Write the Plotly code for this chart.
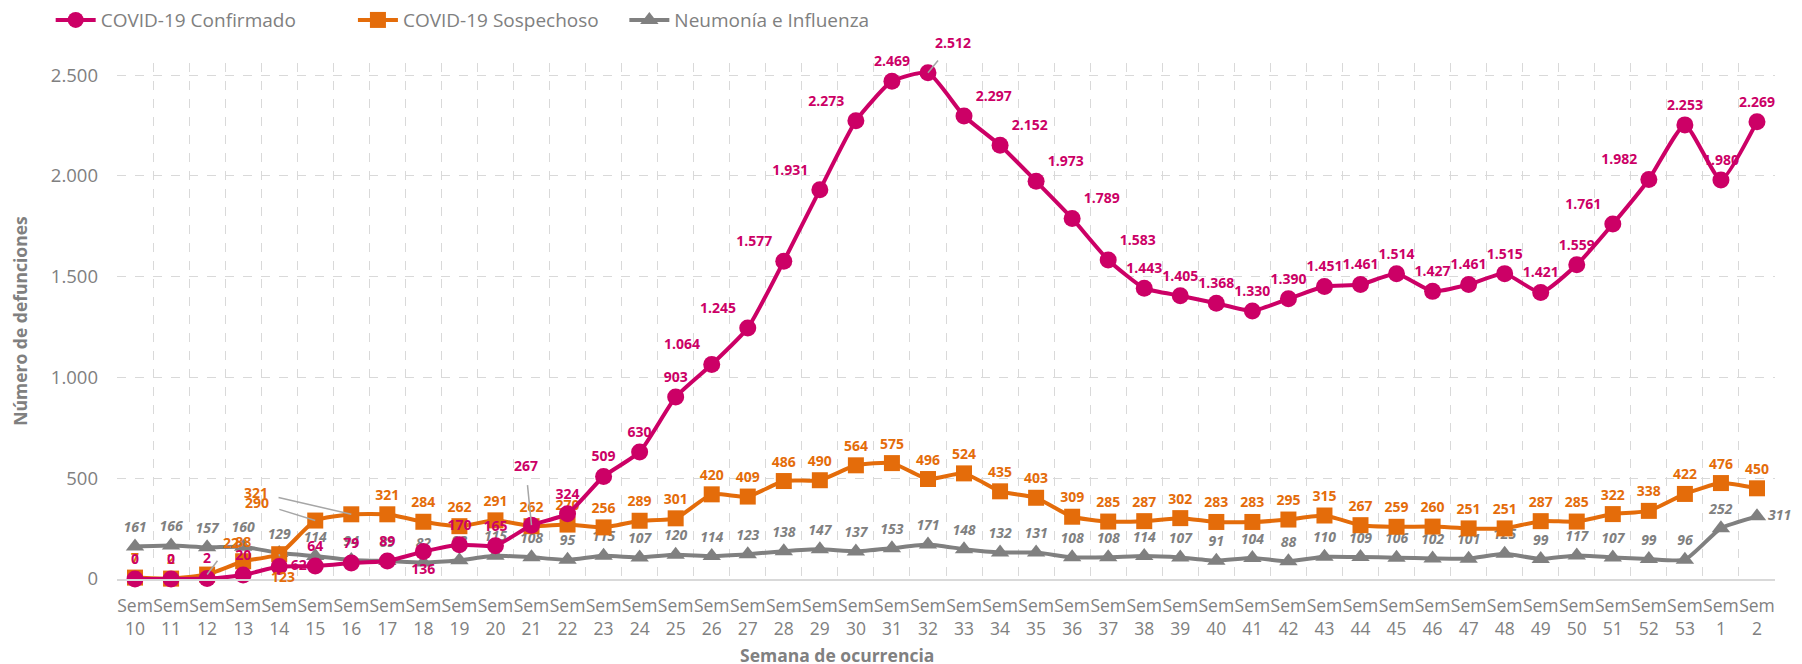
import plotly.graph_objects as go

weeks = [str(w) for w in range(10, 54)] + ["1", "2"]
categories = ["Sem<br>" + w for w in weeks]

confirmado = [0, 0, 2, 20, 62, 64, 79, 89, 136, 170, 165, 267, 324,
              509, 630, 903, 1064, 1245, 1577, 1931, 2273, 2469, 2512, 2297, 2152, 1973,
              1789, 1583, 1443, 1405, 1368, 1330, 1390, 1451, 1461, 1514, 1427, 1461,
              1515, 1421, 1559, 1761, 1982, 2253, 1980, 2269]
sospechoso = [7, 2, 22, 88, 123, 290, 321, 321, 284, 262, 291, 262, 270,
              256, 289, 301, 420, 409, 486, 490, 564, 575, 496, 524, 435, 403,
              309, 285, 287, 302, 283, 283, 295, 315, 267, 259, 260, 251, 251,
              287, 285, 322, 338, 422, 476, 450]
neumonia = [161, 166, 157, 160, 129, 114, 94, 89, 82, 93, 115, 108, 95,
            115, 107, 120, 114, 123, 138, 147, 137, 153, 171, 148, 132, 131,
            108, 108, 114, 107, 91, 104, 88, 110, 109, 106, 102, 101, 125,
            99, 117, 107, 99, 96, 252, 311]

PINK = "#CC0066"
ORANGE = "#E46C0A"
GRAY = "#808080"
FONT = "Open Sans"
LBL = 14


def fmt(v):
    return f"{v:,}".replace(",", ".")


# labels moved away from their point with a leader line (index -> pixel offset)
callouts_conf = {22: (25, -30), 11: (-6, -60)}
callouts_sosp = {6: (-95, -22), 5: (-58, -18), 2: (24, -32), 4: (4, 22)}

pos_conf = []
for i, w in enumerate(weeks):
    p = "top center"
    if w == "18":
        p = "bottom center"
    elif w == "14":
        p = "middle right"
    elif w in ("26", "27", "28", "29", "30", "51", "52"):
        p = "top left"
    elif w in ("33", "34", "35", "36", "37"):
        p = "top right"
    pos_conf.append(p)

pos_gray = ["middle right" if i == len(weeks) - 1 else "top center"
            for i in range(len(weeks))]

text_conf = ["" if i in callouts_conf else fmt(v) for i, v in enumerate(confirmado)]
text_sosp = ["" if i in callouts_sosp else fmt(v) for i, v in enumerate(sospechoso)]

fig = go.Figure()

fig.add_trace(go.Scatter(
    x=categories, y=neumonia, name="Neumonía e Influenza",
    mode="lines+markers+text", legend="legend3",
    line=dict(color=GRAY, width=4, shape="spline", smoothing=0.5),
    marker=dict(symbol="triangle-up", size=16, color=GRAY),
    text=[fmt(v) for v in neumonia], textposition=pos_gray,
    textfont=dict(family=FONT, size=LBL, color=GRAY, weight="bold", style="italic"),
    cliponaxis=False,
))
fig.add_trace(go.Scatter(
    x=categories, y=sospechoso, name="COVID-19 Sospechoso",
    mode="lines+markers+text", legend="legend2",
    line=dict(color=ORANGE, width=4, shape="spline", smoothing=0.5),
    marker=dict(symbol="square", size=16, color=ORANGE),
    text=text_sosp, textposition="top center",
    textfont=dict(family=FONT, size=LBL, color=ORANGE, weight="bold"),
    cliponaxis=False,
))
fig.add_trace(go.Scatter(
    x=categories, y=confirmado, name="COVID-19 Confirmado",
    mode="lines+markers+text", legend="legend",
    line=dict(color=PINK, width=4, shape="spline", smoothing=0.5),
    marker=dict(symbol="circle", size=17, color=PINK),
    text=text_conf, textposition=pos_conf,
    textfont=dict(family=FONT, size=LBL, color=PINK, weight="bold"),
    cliponaxis=False,
))

annotations = []
for series, calls, color in ((confirmado, callouts_conf, PINK),
                             (sospechoso, callouts_sosp, ORANGE)):
    for i, (ax, ay) in calls.items():
        annotations.append(dict(
            x=categories[i], y=series[i], xref="x", yref="y",
            text="<b>" + fmt(series[i]) + "</b>", showarrow=True,
            ax=ax, ay=ay, arrowhead=0, arrowwidth=1.5, arrowcolor="#A6A6A6",
            standoff=0, startstandoff=9,
            font=dict(family=FONT, size=LBL, color=color),
        ))

# page body adds an 8px offset, so margins are compensated
ML, MR, MT, MB = 109, 35, 55, 93
plot_h = 664 - MT - MB
annotations.append(dict(
    x=0.434, y=-(647 - (664 - MB)) / plot_h, xref="paper", yref="paper",
    yanchor="middle", text="<b>Semana de ocurrencia</b>", showarrow=False,
    font=dict(family=FONT, size=17.5, color=GRAY),
))


def legend_box(xpos):
    return dict(
        orientation="h", x=xpos, xanchor="left", y=1.12, yanchor="top",
        font=dict(family=FONT, size=19, color=GRAY),
        itemwidth=40, bgcolor="rgba(0,0,0,0)",
    )


fig.update_layout(
    width=1802, height=664,
    margin=dict(l=ML, r=MR, t=MT, b=MB, autoexpand=False),
    plot_bgcolor="white", paper_bgcolor="white",
    separators=",.",
    font=dict(family=FONT, color=GRAY),
    showlegend=True,
    annotations=annotations,
    legend=legend_box(-0.04),
    legend2=legend_box(0.1423),
    legend3=legend_box(0.306),
    xaxis=dict(
        type="category", categoryorder="array", categoryarray=categories,
        range=[-0.5, len(categories) - 0.5], autorange=False,
        tickson="boundaries", ticks="", showgrid=True, tickangle=0,
        gridcolor="#D9D9D9", griddash="dash", gridwidth=1,
        showline=True, linecolor="#D9D9D9", linewidth=2,
        tickfont=dict(family=FONT, size=17.5, color=GRAY),
        ticklabelstandoff=10,
    ),
    yaxis=dict(
        range=[0, 2560], tickvals=[0, 500, 1000, 1500, 2000, 2500],
        tickformat=",d", showgrid=True, gridcolor="#D9D9D9", griddash="dash",
        zeroline=False, showline=False, ticks="",
        tickfont=dict(family=FONT, size=18.5, color=GRAY),
        ticklabelstandoff=18,
        title=dict(text="<b>Número de defunciones</b>", standoff=22,
                   font=dict(family=FONT, size=17.5, color=GRAY)),
    ),
)

fig.write_html("out.html")
